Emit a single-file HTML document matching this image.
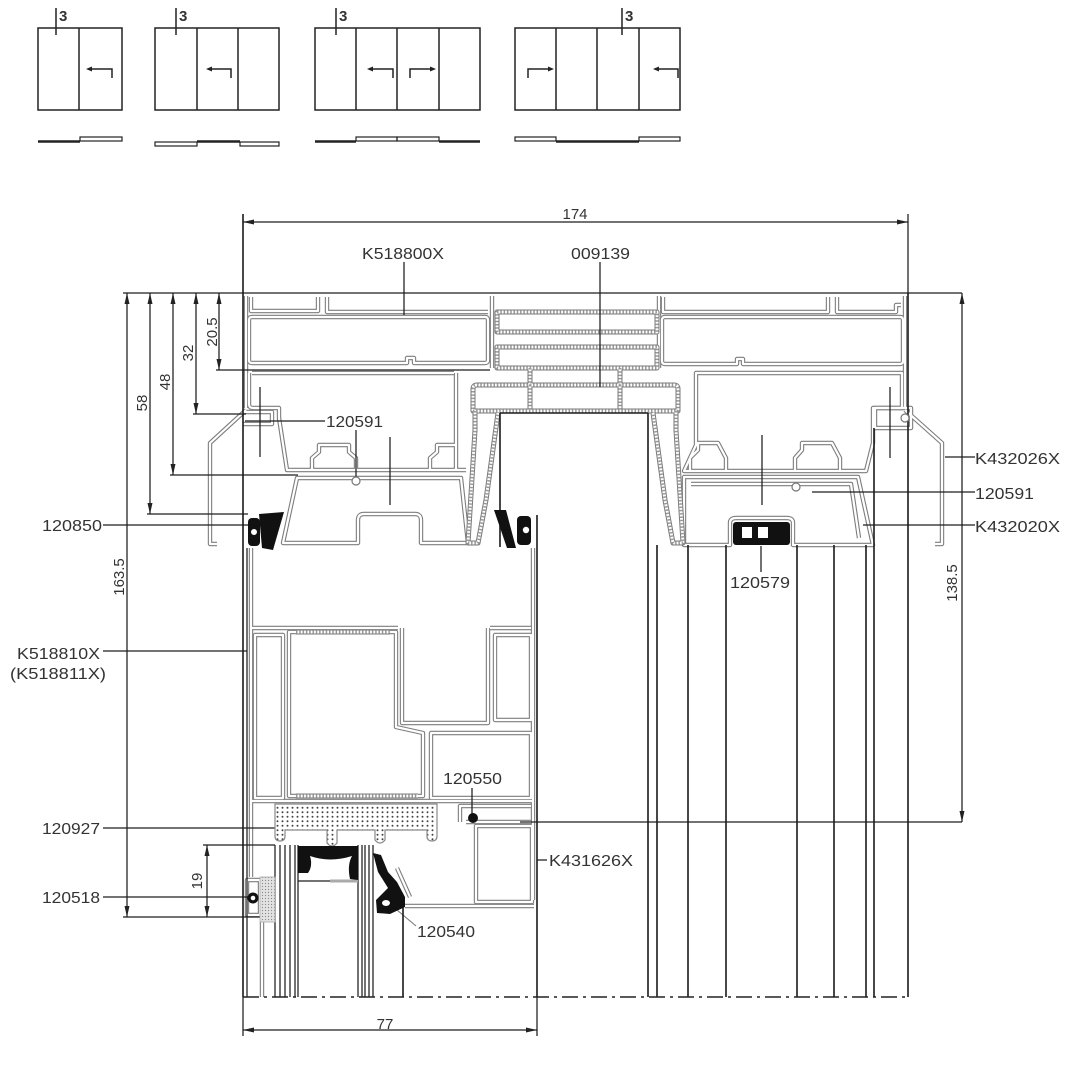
<!DOCTYPE html>
<html><head><meta charset="utf-8"><style>
html,body{margin:0;padding:0;background:#fff;}
svg{display:block}
.d{stroke:#1e1e1e;stroke-width:1.25;fill:none}
.dk{stroke:#1a1a1a;stroke-width:1.6;fill:none}
.w1{stroke:#7d7d7d;stroke-width:4.4;fill:none;stroke-linejoin:round}
.w2{stroke:#fff;stroke-width:2.2;fill:none;stroke-linejoin:round}
.h1{stroke:#7a7a7a;stroke-width:5;fill:none;stroke-linejoin:round}
.h2{stroke:#fff;stroke-width:3;fill:none;stroke-linejoin:round}
.h3{stroke:#999;stroke-width:3;fill:none;stroke-dasharray:1.5 1.8}
text{font-family:"Liberation Sans",Arial,sans-serif;fill:#333}
.lb{font-size:16px}
.dm{font-size:15px;fill:#4a4a4a}
</style></head><body>
<svg width="1080" height="1080" viewBox="0 0 1080 1080" xmlns="http://www.w3.org/2000/svg">
<defs>
<pattern id="dots" width="5" height="4.5" patternUnits="userSpaceOnUse">
<rect width="5" height="4.5" fill="#fff"/><circle cx="2.5" cy="2.2" r="1" fill="#444"/>
</pattern>
<pattern id="foam" width="3" height="3" patternUnits="userSpaceOnUse">
<rect width="3" height="3" fill="#e2e2e2"/><circle cx="1.5" cy="1.5" r="0.6" fill="#888"/>
</pattern>
<g id="walls">
<path d="M251 297 V311 H318 V297 M327 297 V312 H488"/>
<path d="M252 317 H485 Q488 317 488 320 V360 Q488 363 485 363 H414 V358 H407 V363 H252 Q249 363 249 360 V320 Q249 317 252 317 Z"/>
<path d="M665 317 H900 Q903 317 903 320 V361 Q903 364 900 364 H743 V359 H737 V364 H665 Q662 364 662 361 V320 Q662 317 665 317 Z"/>
<path d="M663 297 V312 H828 V297 M837 297 V312 H896 V305 H901"/>
<path d="M492 296 V368 M659 296 V368"/>
<path d="M246 296 V408 M905 296 V408"/>
<path d="M252 373 H454 M249 373 V404 Q249 408 253 408 H279 V418 L287 470 H466 M456 373 V470"/>
<path d="M312 470 V458 L319 452 V445 H349 V452 L356 458 V470 M430 470 V458 L437 452 V445 H456"/>
<path d="M696 373 H902 V408 H873 V443 L866 471 H684 L696 445 Z"/>
<path d="M690 471 V458 L698 450 V443 H718 L726 458 V471 M795 471 V458 L802 450 V443 H832 L840 458 V471"/>
<path d="M297 478 H461 L468 543 H421 V520 Q421 514 415 514 H364 Q358 514 358 520 V543 H283 Z"/>
<path d="M684 477 H858 L873 545 H793 V523 Q793 518 787 518 H736 Q730 518 730 523 V545 H684 Z"/>
<path d="M691 484 H851 L859 538"/>
<path d="M246 410 L210 443 V544 H217 M905 410 L942 443 V544 H935"/>
<path d="M243 412 H272 V424 H243 M875 408 H911 V428 H875 Z"/>
<path d="M251 548 V877 M533 548 V900"/>
<path d="M252 628 H398 M490 628 H531"/>
<path d="M255 635 H283 V798 H255 Z"/>
<path d="M289 632 H396 V727 L423 733 V796 H289 Z"/>
<path d="M402 628 V723 H488 V628"/>
<path d="M495 635 H531 V720 H495 Z"/>
<path d="M431 733 H531 V798 H431 Z"/>
<path d="M252 801 H534"/>
<path d="M460 822 V806 H531 M466 822 H531"/>
<path d="M476 826 H532 V902 H476 Z"/>
<path d="M405 906 H534"/>
<path d="M247 880 H260 V915 H247 Z"/>
<path d="M397 868 L410 897"/>
<path d="M262 922 V997"/>
</g>
<g id="hatch">
<path d="M497 312 H657 V332 H497 Z M497 347 H657 V368 H497 Z"/>
<path d="M477 385 H674 Q678 385 678 389 V411 H473 V389 Q473 385 477 385 Z"/>
<path d="M475 411 V430 L468 543 H478 L486 500 L498 413 M676 411 V430 L683 543 H673 L665 500 L653 413"/>
<path d="M530 385 V411 M620 385 V411 M530 368 V385 M620 368 V385"/>
<path d="M296 632 H390 M296 796 H418"/>
</g>
</defs>

<!-- TOP ICONS -->
<g stroke="#222" stroke-width="1.5" fill="none">
<rect x="38" y="28" width="84" height="82"/>
<path d="M79 28 V110"/>
<rect x="155" y="28" width="124" height="82"/>
<path d="M197 28 V110 M238 28 V110"/>
<rect x="315" y="28" width="165" height="82"/>
<path d="M356 28 V110 M397 28 V110 M439 28 V110"/>
<rect x="515" y="28" width="165" height="82"/>
<path d="M556 28 V110 M597 28 V110 M639 28 V110"/>
<path d="M56 8 V35 M176 8 V35 M336 8 V35 M622 8 V35"/>
<path d="M88 69 H112 V78 M208 69 H231 V78 M369 69 H393 V78 M434 69 H410 V78 M552 69 H528 V78 M655 69 H678 V78"/>
<path d="M38 141.5 H80 M197 141.5 H240 M315 141.5 H356 M439 141.5 H480 M556 141.5 H639" stroke-width="2.5"/>
<g stroke-width="1.2">
<rect x="80" y="137" width="42" height="4"/>
<rect x="155" y="142" width="42" height="4"/>
<rect x="240" y="142" width="39" height="4"/>
<rect x="356" y="137" width="41" height="4"/>
<rect x="397" y="137" width="42" height="4"/>
<rect x="515" y="137" width="41" height="4"/>
<rect x="639" y="137" width="41" height="4"/>
</g>
</g>
<g fill="#222">
<polygon points="86,69 92,66.5 92,71.5"/>
<polygon points="206,69 212,66.5 212,71.5"/>
<polygon points="367,69 373,66.5 373,71.5"/>
<polygon points="436,69 430,66.5 430,71.5"/>
<polygon points="554,69 548,66.5 548,71.5"/>
<polygon points="653,69 659,66.5 659,71.5"/>
</g>
<g>
<text x="59" y="21" style="font-size:15px;font-weight:bold">3</text>
<text x="179" y="21" style="font-size:15px;font-weight:bold">3</text>
<text x="339" y="21" style="font-size:15px;font-weight:bold">3</text>
<text x="625" y="21" style="font-size:15px;font-weight:bold">3</text>
</g>

<!-- PROFILE WALLS -->
<use href="#walls" class="w1"/>
<use href="#walls" class="w2"/>
<use href="#hatch" class="h1"/>
<use href="#hatch" class="h2"/>
<use href="#hatch" class="h3"/>

<!-- DIMENSION & FRAME LINES -->
<g class="d">
<path d="M243 222 H908 M908 214 V293 M123 293 H962"/>
<path d="M127 293 V917 M150 293 V514 M173 293 V475 M196 293 V414 M219 293 V370"/>
<path d="M216 370 H490 M193 414 H246 M170 475 H298 M147 514 H248 M123 917 H262"/>
<path d="M207 845 V917 M203 845 H275"/>
<path d="M962 293 V822 M520 822 H962"/>
<path d="M243 1030 H537 M537 997 V1036 M243 997 V1036"/>
<path d="M404 262 V315 M600 262 V387 M245 421 H325 M356 430 V478"/>
<path d="M103 525 H250 M103 651 H247 M103 828 H275 M103 897 H249"/>
<path d="M472 788 V815 M537 860 H547 M761 546 V572"/>
<path d="M945 457 H975 M812 492 H975 M863 525 H975"/>
<path d="M260 387 V457 M390 437 V505 M762 435 V505 M890 387 V458"/>
<path d="M275 845 V997 M280 845 V997 M285 845 V997 M290 845 V997 M295 845 V997 M298 845 V997"/>
<path d="M358 845 V997 M362 845 V997 M365 845 V997 M369 845 V997 M373 845 V997"/>
<path d="M298 881 H330"/>
<path d="M247 548 V997"/>
</g>
<path d="M330 881 H358" stroke="#aaa" stroke-width="3"/>
<path d="M397 910 L416 926" stroke="#777" stroke-width="1"/>
<g class="dk">
<path d="M243 214 V997 M908 293 V997"/>
<path d="M874 428 V997 M866 545 V997 M834 545 V997 M797 545 V997 M726 545 V997 M688 545 V997 M657 545 V997"/>
<path d="M648 413 V997 M500 413 V547 M500 413 H648"/>
<path d="M537 515 V997 M403 906 V997"/>
</g>
<path d="M243 997 H908" stroke="#222" stroke-width="1.4" stroke-dasharray="16 5 3 5"/>

<!-- ARROWS -->
<g fill="#222">
<polygon points="243,222 254,219.5 254,224.5"/>
<polygon points="908,222 897,219.5 897,224.5"/>
<polygon points="243,1030 254,1027.5 254,1032.5"/>
<polygon points="537,1030 526,1027.5 526,1032.5"/>
<polygon points="127,293 124.5,304 129.5,304"/>
<polygon points="127,917 124.5,906 129.5,906"/>
<polygon points="150,293 147.5,304 152.5,304"/>
<polygon points="150,514 147.5,503 152.5,503"/>
<polygon points="173,293 170.5,304 175.5,304"/>
<polygon points="173,475 170.5,464 175.5,464"/>
<polygon points="196,293 193.5,304 198.5,304"/>
<polygon points="196,414 193.5,403 198.5,403"/>
<polygon points="219,293 216.5,304 221.5,304"/>
<polygon points="219,370 216.5,359 221.5,359"/>
<polygon points="207,845 204.5,856 209.5,856"/>
<polygon points="207,917 204.5,906 209.5,906"/>
<polygon points="962,293 959.5,304 964.5,304"/>
<polygon points="962,822 959.5,811 964.5,811"/>
</g>

<!-- INSULATION / FOAM -->
<path d="M275 804 H437 V836 Q437 841 432 841 Q427 841 427 836 V830 H385 V840 Q380 846 375 840 V830 H337 V843 Q332 849 327 843 V830 H285 V836 Q285 841 280 841 Q275 841 275 836 Z" fill="url(#dots)" stroke="#888" stroke-width="1.2"/>
<rect x="260" y="877" width="15" height="45" fill="url(#foam)" stroke="#aaa" stroke-width="0.8"/>

<!-- GASKETS (black) -->
<g fill="#111">
<path d="M259 514 L284 512 L273 550 L262 548 Z"/>
<rect x="248" y="518" width="12" height="28" rx="4"/>
<path d="M494 510 L506 510 L516 548 L507 548 Z"/>
<rect x="517" y="516" width="14" height="29" rx="4"/>
<rect x="733" y="522" width="57" height="23" rx="3"/>
<circle cx="473" cy="818" r="5"/>
<circle cx="253" cy="898" r="5.5"/>
<path d="M298 846 H358 V880 L350 879 Q347 865 352 856 Q330 863 310 856 Q313 866 308 873 H298 Z"/>
<path d="M373 853 L381 855 L388 872 L397 882 L405 897 L405 907 L390 914 L377 913 L376 900 L388 888 L378 872 Z"/>
</g>
<g fill="#fff">
<circle cx="254" cy="532" r="3"/>
<circle cx="526" cy="530" r="3.2"/>
<rect x="742" y="527" width="10" height="11"/>
<rect x="758" y="527" width="10" height="11"/>
<circle cx="253" cy="898" r="2.3"/>
<ellipse cx="386" cy="903" rx="4" ry="3"/>
</g>
<g fill="#fff" stroke="#777" stroke-width="1.2">
<circle cx="356" cy="481" r="4"/>
<circle cx="796" cy="487" r="4"/>
<circle cx="905" cy="418" r="4"/>
</g>

<!-- LABELS -->
<g class="lb">
<text x="362" y="259" textLength="82" lengthAdjust="spacingAndGlyphs">K518800X</text>
<text x="571" y="259" textLength="59" lengthAdjust="spacingAndGlyphs">009139</text>
<text x="326" y="427" textLength="57" lengthAdjust="spacingAndGlyphs">120591</text>
<text x="42" y="531" textLength="60" lengthAdjust="spacingAndGlyphs">120850</text>
<text x="17" y="659" textLength="83" lengthAdjust="spacingAndGlyphs">K518810X</text>
<text x="10" y="679" textLength="96" lengthAdjust="spacingAndGlyphs">(K518811X)</text>
<text x="42" y="834" textLength="58" lengthAdjust="spacingAndGlyphs">120927</text>
<text x="42" y="903" textLength="58" lengthAdjust="spacingAndGlyphs">120518</text>
<text x="443" y="784" textLength="59" lengthAdjust="spacingAndGlyphs">120550</text>
<text x="549" y="866" textLength="84" lengthAdjust="spacingAndGlyphs">K431626X</text>
<text x="417" y="937" textLength="58" lengthAdjust="spacingAndGlyphs">120540</text>
<text x="730" y="588" textLength="60" lengthAdjust="spacingAndGlyphs">120579</text>
<text x="975" y="464" textLength="85" lengthAdjust="spacingAndGlyphs">K432026X</text>
<text x="975" y="499" textLength="59" lengthAdjust="spacingAndGlyphs">120591</text>
<text x="975" y="532" textLength="85" lengthAdjust="spacingAndGlyphs">K432020X</text>
</g>
<g class="dm" text-anchor="middle">
<text x="575" y="219">174</text>
<text x="385" y="1029">77</text>
<text transform="translate(217,332) rotate(-90)">20.5</text>
<text transform="translate(193,353) rotate(-90)">32</text>
<text transform="translate(170,382) rotate(-90)">48</text>
<text transform="translate(147,403) rotate(-90)">58</text>
<text transform="translate(124,577) rotate(-90)">163.5</text>
<text transform="translate(202,881) rotate(-90)">19</text>
<text transform="translate(957,583) rotate(-90)">138.5</text>
</g>
</svg>
</body></html>
